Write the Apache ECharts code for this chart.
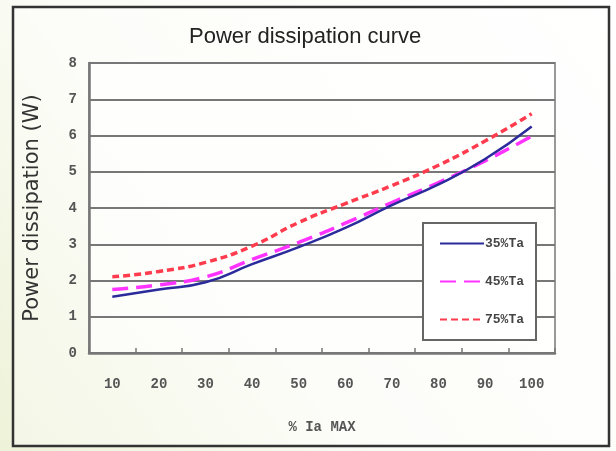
<!DOCTYPE html>
<html>
<head>
<meta charset="utf-8">
<script src="https://cdn.jsdelivr.net/npm/echarts@6/dist/echarts.min.js"></script>
<style>
html,body{margin:0;padding:0;background:#fff;}
#c{width:616px;height:451px;}
</style>
</head>
<body>
<div id="c"></div>
<script>
var categories = ['10','20','30','40','50','60','70','80','90','100'];
var s35 = [1.55, 1.75, 1.95, 2.45, 2.92, 3.45, 4.08, 4.65, 5.35, 6.25];
var s45 = [1.75, 1.88, 2.1, 2.58, 3.05, 3.58, 4.15, 4.7, 5.3, 5.98];
var s75 = [2.1, 2.25, 2.5, 2.95, 3.6, 4.12, 4.62, 5.18, 5.85, 6.6];
var seriesNames = ['35%Ta', '45%Ta', '75%Ta'];
var yTicks = [0, 8, 1];

var chart = echarts.init(document.getElementById('c'));
var labelFont = {color:'#555', fontFamily:'Liberation Mono', fontWeight:'bold', fontSize:14};
chart.setOption({
  animation:false,
  backgroundColor:{type:'linear',x:1,y:0,x2:0,y2:1,colorStops:[{offset:0,color:'#ffffff'},{offset:0.6,color:'#fbfcf6'},{offset:1,color:'#eef2d8'}]},
  graphic:[
    {type:'rect',shape:{x:13,y:7,width:596,height:439},style:{fill:'rgba(255,255,255,0.35)',stroke:'#333',lineWidth:2.5},z:-1}
  ],
  title:{text:'Power dissipation curve',left:184,top:21,
    textStyle:{fontFamily:'Liberation Sans',fontWeight:'normal',fontSize:22,color:'#222'}},
  legend:{
    orient:'vertical',left:423,top:223,width:124,
    data:seriesNames,
    backgroundColor:'#fff',borderColor:'#666',borderWidth:2,
    padding:[14,12,14,16],itemGap:25,itemWidth:44,itemHeight:14,
    itemStyle:{opacity:0},
    textStyle:{color:'#444',fontFamily:'Liberation Mono',fontWeight:'bold',fontSize:13,padding:[0,0,0,-4]}
  },
  grid:{left:89,right:61,top:63,bottom:98,show:true,borderColor:'#999',borderWidth:2,backgroundColor:'rgba(255,255,255,0.6)'},
  xAxis:{
    type:'category',data:categories,boundaryGap:true,
    name:'% Ia MAX',nameLocation:'middle',nameGap:67,
    nameTextStyle:{color:'#555',fontFamily:'Liberation Mono',fontWeight:'bold',fontSize:14},
    axisLine:{lineStyle:{color:'#777',width:2.5}},
    axisTick:{show:true,inside:true,length:5,lineStyle:{color:'#777',width:1.5}},
    axisLabel:Object.assign({margin:24},labelFont),
    splitLine:{show:false}
  },
  yAxis:{
    type:'value',min:yTicks[0],max:yTicks[1],interval:yTicks[2],
    name:'Power dissipation (W)',nameLocation:'middle',nameGap:46,
    nameTextStyle:{color:'#333',fontFamily:'DejaVu Sans',fontSize:21},
    axisLine:{show:true,lineStyle:{color:'#777',width:2.5}},
    axisTick:{show:false},
    axisLabel:Object.assign({margin:12},labelFont),
    splitLine:{show:true,lineStyle:{color:'#777',width:2}}
  },
  series:[
    {name:seriesNames[0],type:'line',data:s35,smooth:true,showSymbol:false,symbol:'none',
      lineStyle:{color:'#2b2b9c',width:2.5},itemStyle:{color:'#2b2b9c'},z:3},
    {name:seriesNames[1],type:'line',data:s45,smooth:true,showSymbol:false,symbol:'none',
      lineStyle:{color:'#ff33ff',width:3.5,type:[16,8]},itemStyle:{color:'#ff33ff'},z:2},
    {name:seriesNames[2],type:'line',data:s75,smooth:true,showSymbol:false,symbol:'none',
      lineStyle:{color:'#ff3b4e',width:3.5,type:[7,4]},itemStyle:{color:'#ff3b4e'},z:2}
  ]
});
</script>
</body>
</html>
